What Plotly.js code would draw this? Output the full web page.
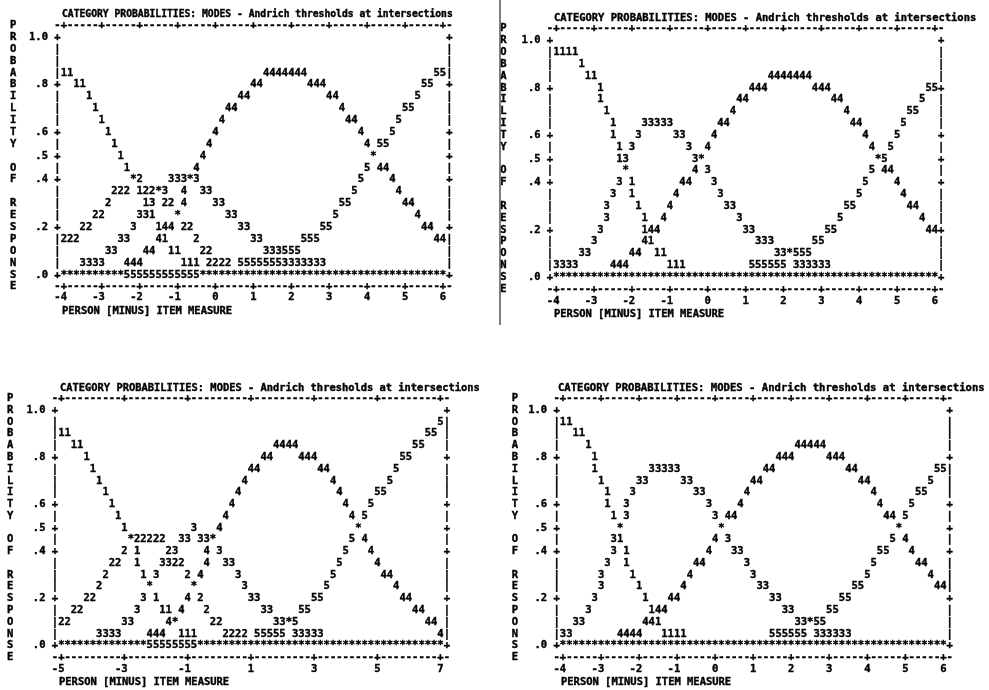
<!DOCTYPE html>
<html><head><meta charset="utf-8">
<script src="https://cdn.plot.ly/plotly-3.0.1.min.js"></script>
<style>
html,body{margin:0;padding:0;background:#fff}
#chart{width:989px;height:690px;will-change:transform;opacity:0.999}
#chart svg text{stroke:#000;stroke-width:0.4px;paint-order:stroke fill}
</style>
</head><body><div id="chart"></div>
<script>
// ---------- texts ----------
const TITLE = "CATEGORY PROBABILITIES: MODES - Andrich thresholds at intersections";
const X_TITLE = "PERSON [MINUS] ITEM MEASURE";
const Y_LETTERS = "PROBABILITY OF RESPONSE";

// ---------- probability axis (one text row = .05) ----------
const yTickVals = [1.0, 0.8, 0.6, 0.5, 0.4, 0.2, 0.0];
const yTickText = ["1.0", ".8", ".6", ".5", ".4", ".2", ".0"];
const probTop = 1.0, probStep = 0.05;

// ---------- measure axes ----------
const tlTicks = [-4, -3, -2, -1, 0, 1, 2, 3, 4, 5, 6];
const tlTickText = ["-4", "-3", "-2", "-1", "0", "1", "2", "3", "4", "5", "6"];
const trTicks = [-4, -3, -2, -1, 0, 1, 2, 3, 4, 5, 6];
const trTickText = ["-4", "-3", "-2", "-1", "0", "1", "2", "3", "4", "5", "6"];
const blTicks = [-5, -3, -1, 1, 3, 5, 7];
const blTickText = ["-5", "-3", "-1", "1", "3", "5", "7"];
const brTicks = [-4, -3, -2, -1, 0, 1, 2, 3, 4, 5, 6];
const brTickText = ["-4", "-3", "-2", "-1", "0", "1", "2", "3", "4", "5", "6"];

const S10 = "**********";

// ---------- plotted category characters: [row (0 = 1.0 ... 20 = .0), column from axis minimum, characters] ----------
const tlRuns = [
  [3,0,"11"],[3,32,"4444444"],[3,59,"55"],
  [4,2,"11"],[4,30,"44"],[4,39,"444"],[4,57,"55"],
  [5,4,"1"],[5,28,"44"],[5,42,"44"],[5,56,"5"],
  [6,5,"1"],[6,26,"44"],[6,44,"4"],[6,54,"55"],
  [7,6,"1"],[7,25,"4"],[7,45,"44"],[7,53,"5"],
  [8,7,"1"],[8,24,"4"],[8,47,"4"],[8,52,"5"],
  [9,8,"1"],[9,23,"4"],[9,48,"4 55"],
  [10,9,"1"],[10,22,"4"],[10,49,"*"],
  [11,10,"1"],[11,21,"4"],[11,48,"5 44"],
  [12,11,"*2"],[12,17,"333*3"],[12,47,"5"],[12,52,"4"],
  [13,8,"222 122*3"],[13,19,"4"],[13,22,"33"],[13,46,"5"],[13,53,"4"],
  [14,7,"2"],[14,13,"13 22 4"],[14,24,"33"],[14,44,"55"],[14,54,"44"],
  [15,5,"22"],[15,12,"331"],[15,18,"*"],[15,26,"33"],[15,43,"5"],[15,56,"4"],
  [16,3,"22"],[16,11,"3"],[16,15,"144 22"],[16,28,"33"],[16,41,"55"],[16,57,"44"],
  [17,0,"222"],[17,9,"33"],[17,15,"41"],[17,21,"2"],[17,30,"33"],[17,38,"555"],[17,59,"44"],
  [18,7,"33"],[18,13,"44"],[18,17,"11"],[18,22,"22"],[18,32,"333555"],
  [19,3,"3333"],[19,10,"444"],[19,19,"111"],[19,23,"2222"],[19,28,"55555553333333"],
  [20,0,S10],[20,10,"555555555555"],[20,22,S10+S10+S10+"*********"]
];
const trRuns = [
  [1,0,"1111"],
  [2,4,"1"],
  [3,5,"11"],[3,34,"4444444"],
  [4,7,"1"],[4,31,"444"],[4,41,"444"],[4,59,"55"],
  [5,7,"1"],[5,29,"44"],[5,44,"44"],[5,58,"5"],
  [6,8,"1"],[6,28,"4"],[6,46,"4"],[6,56,"55"],
  [7,9,"1"],[7,14,"33333"],[7,26,"44"],[7,47,"44"],[7,55,"5"],
  [8,9,"1"],[8,13,"3"],[8,19,"33"],[8,25,"4"],[8,49,"4"],[8,54,"5"],
  [9,10,"1 3"],[9,21,"3"],[9,24,"4"],[9,50,"4"],[9,53,"5"],
  [10,10,"13"],[10,22,"3*"],[10,51,"*5"],
  [11,11,"*"],[11,22,"4 3"],[11,50,"5 44"],
  [12,10,"3 1"],[12,20,"44"],[12,25,"3"],[12,49,"5"],[12,54,"4"],
  [13,9,"3"],[13,12,"1"],[13,19,"4"],[13,26,"3"],[13,48,"5"],[13,55,"4"],
  [14,8,"3"],[14,13,"1"],[14,18,"4"],[14,27,"33"],[14,46,"55"],[14,56,"44"],
  [15,8,"3"],[15,14,"1"],[15,17,"4"],[15,29,"3"],[15,45,"5"],[15,58,"4"],
  [16,7,"3"],[16,14,"144"],[16,30,"33"],[16,43,"55"],[16,59,"44"],
  [17,6,"3"],[17,14,"41"],[17,32,"333"],[17,41,"55"],
  [18,4,"33"],[18,12,"44"],[18,16,"11"],[18,35,"33*555"],
  [19,0,"3333"],[19,9,"444"],[19,18,"111"],[19,31,"555555"],[19,38,"333333"],
  [20,0,S10+S10+S10+S10+S10+S10+"*"]
];
const blRuns = [
  [1,60,"5"],
  [2,0,"11"],[2,58,"55"],
  [3,2,"11"],[3,34,"4444"],[3,56,"55"],
  [4,4,"1"],[4,32,"44"],[4,38,"444"],[4,54,"55"],
  [5,5,"1"],[5,30,"44"],[5,41,"44"],[5,53,"5"],
  [6,6,"1"],[6,29,"4"],[6,43,"4"],[6,52,"5"],
  [7,7,"1"],[7,28,"4"],[7,44,"4"],[7,50,"55"],
  [8,8,"1"],[8,27,"4"],[8,45,"4"],[8,49,"5"],
  [9,9,"1"],[9,26,"4"],[9,46,"4 5"],
  [10,10,"1"],[10,21,"3"],[10,25,"4"],[10,47,"*"],
  [11,11,"*22222"],[11,19,"33 33*"],[11,46,"5 4"],
  [12,10,"2 1"],[12,17,"23"],[12,23,"4 3"],[12,45,"5"],[12,49,"4"],
  [13,8,"22"],[13,12,"1"],[13,16,"3322"],[13,23,"4"],[13,26,"33"],[13,44,"5"],[13,50,"4"],
  [14,7,"2"],[14,13,"1 3"],[14,20,"2 4"],[14,28,"3"],[14,43,"5"],[14,51,"44"],
  [15,6,"2"],[15,14,"*"],[15,21,"*"],[15,29,"3"],[15,42,"5"],[15,53,"4"],
  [16,4,"22"],[16,13,"3 1"],[16,20,"4 2"],[16,30,"33"],[16,40,"55"],[16,54,"44"],
  [17,2,"22"],[17,12,"3"],[17,16,"11 4"],[17,23,"2"],[17,32,"33"],[17,38,"55"],[17,56,"44"],
  [18,0,"22"],[18,10,"33"],[18,17,"4*"],[18,24,"22"],[18,34,"33*5"],[18,58,"44"],
  [19,6,"3333"],[19,14,"444"],[19,19,"111"],[19,26,"2222"],[19,31,"55555"],[19,37,"33333"],[19,60,"4"],
  [20,0,S10+"****"],[20,14,"55555555"],[20,22,S10+S10+S10+"*********"]
];
const brRuns = [
  [1,0,"11"],
  [2,2,"11"],
  [3,4,"1"],[3,37,"44444"],
  [4,5,"1"],[4,34,"444"],[4,42,"444"],
  [5,5,"1"],[5,14,"33333"],[5,32,"44"],[5,45,"44"],[5,59,"55"],
  [6,6,"1"],[6,12,"33"],[6,19,"33"],[6,30,"44"],[6,47,"44"],[6,58,"5"],
  [7,7,"1"],[7,11,"3"],[7,21,"33"],[7,29,"4"],[7,49,"4"],[7,56,"55"],
  [8,7,"1"],[8,10,"3"],[8,23,"3"],[8,28,"4"],[8,50,"4"],[8,55,"5"],
  [9,8,"1 3"],[9,24,"3 44"],[9,51,"44 5"],
  [10,9,"*"],[10,25,"*"],[10,53,"*"],
  [11,8,"31"],[11,24,"4 3"],[11,52,"5 4"],
  [12,8,"3 1"],[12,23,"4"],[12,27,"33"],[12,50,"55"],[12,55,"4"],
  [13,7,"3"],[13,10,"1"],[13,21,"44"],[13,29,"3"],[13,49,"5"],[13,56,"44"],
  [14,6,"3"],[14,11,"1"],[14,20,"4"],[14,30,"3"],[14,48,"5"],[14,58,"4"],
  [15,6,"3"],[15,12,"1"],[15,19,"4"],[15,31,"33"],[15,46,"55"],[15,59,"44"],
  [16,5,"3"],[16,13,"1"],[16,17,"44"],[16,33,"33"],[16,44,"55"],
  [17,4,"3"],[17,14,"144"],[17,35,"33"],[17,42,"55"],
  [18,2,"33"],[18,13,"441"],[18,37,"33*55"],
  [19,0,"33"],[19,9,"4444"],[19,16,"1111"],[19,33,"555555"],[19,40,"333333"],
  [20,0,S10+S10+S10+S10+S10+S10+"*"]
];

// ---------- layout of the four panels (pixel calibration) ----------
const FONT = "DejaVu Sans Mono";
const W = 989, H = 690;
const GRID_SIZE = 10.5;
const panels = [
  {ax:"", ticks:tlTicks, tickText:tlTickText, runs:tlRuns, xmin:-4, cpu:6,
   box:[0,495,0,330], a:63.8, b:6.32, c:37.3, d:11.88,
   letterK:-8.0, labelRow:21.85, xTitleRow:22.95, titleK:-0.5, titleSize:9.7},
  {ax:"2", ticks:trTicks, tickText:trTickText, runs:trRuns, xmin:-4, cpu:6,
   box:[500,989,0,330], a:556.3, b:6.31, c:40.7, d:11.83,
   letterK:-8.4, labelRow:22.0, xTitleRow:23.0, titleK:-0.5, titleSize:10.47},
  {ax:"3", ticks:blTicks, tickText:blTickText, runs:blRuns, xmin:-5, cpu:5,
   box:[0,494,340,690], a:61.3, b:6.32, c:410.3, d:11.77,
   letterK:-8.1, labelRow:22.0, xTitleRow:23.0, titleK:-0.3, titleSize:10.41},
  {ax:"4", ticks:brTicks, tickText:brTickText, runs:brRuns, xmin:-4, cpu:6,
   box:[494,989,340,690], a:563.0, b:6.34, c:410.3, d:11.77,
   letterK:-7.6, labelRow:22.0, xTitleRow:23.0, titleK:-1.0, titleSize:10.58}
];

const data = [];
const layout = {
  width: W, height: H, margin:{l:0,r:0,t:0,b:0},
  paper_bgcolor:"#ffffff", plot_bgcolor:"rgba(0,0,0,0)",
  showlegend:false, annotations:[], shapes:[]
};

panels.forEach(p => {
  const X = k => p.xmin + k / p.cpu;                 // column -> measure
  const Y = row => probTop - row * probStep;           // text row -> probability
  const xs = [], ys = [], ts = [];
  const put = (k, row, ch) => {
    if (ch === " ") return;
    xs.push(X(k)); ys.push(Y(row)); ts.push(ch);
  };

  const tickK = p.ticks.map(t => Math.round((t - p.ticks[0]) * p.cpu));
  const kMax = tickK[tickK.length - 1];
  const labeledRows = yTickVals.map(v => Math.round((probTop - v) / probStep));
  const lastRow = Math.round(probTop / probStep);

  // top & bottom dashed scale lines
  for (let k = -1; k <= kMax + 1; k++) {
    const ch = tickK.includes(k) ? "+" : "-";
    put(k, -1, ch); put(k, lastRow + 1, ch);
  }
  // left & right vertical axes
  for (let row = 0; row <= lastRow; row++) {
    const ch = labeledRows.includes(row) ? "+" : "|";
    put(-1, row, ch); put(kMax + 1, row, ch);
  }
  // probability tick labels
  yTickText.forEach((s, i) => {
    for (let j = 0; j < s.length; j++) put(-2 - (s.length - j), labeledRows[i], s[j]);
  });
  // measure tick labels (last character under the tick)
  p.tickText.forEach((s, i) => {
    for (let j = 0; j < s.length; j++) put(tickK[i] - (s.length - 1 - j), p.labelRow, s[j]);
  });
  // vertical axis title letters
  for (let i = 0; i < Y_LETTERS.length; i++) put(p.letterK, i - 1, Y_LETTERS[i]);
  // category curves
  p.runs.forEach(([row, k0, s]) => { for (let j = 0; j < s.length; j++) put(k0 + j, row, s[j]); });

  data.push({
    type:"scatter", mode:"text", x:xs, y:ys, text:ts,
    textposition:"middle center",
    textfont:{family:FONT, size:GRID_SIZE, color:"#000000", weight:"bold"},
    cliponaxis:false, hoverinfo:"skip", showlegend:false,
    xaxis:"x"+p.ax, yaxis:"y"+p.ax
  });

  // axes: invisible, mapping columns/rows to pixels
  const [X0, X1, Y0, Y1] = p.box;
  const pxToMeasure = px => p.xmin + ((px - p.a) / p.b) / p.cpu;
  const pyToProb = py => probTop - probStep * (py - p.c) / p.d;
  layout["xaxis"+p.ax] = {domain:[X0/W, X1/W], range:[pxToMeasure(X0), pxToMeasure(X1)],
    visible:false, fixedrange:true, anchor:"y"+p.ax};
  layout["yaxis"+p.ax] = {domain:[1 - Y1/H, 1 - Y0/H], range:[pyToProb(Y1), pyToProb(Y0)],
    visible:false, fixedrange:true, anchor:"x"+p.ax};

  layout.annotations.push({
    xref:"x"+p.ax, yref:"y"+p.ax, x:X(p.titleK), y:Y(-2), text:TITLE,
    xanchor:"left", yanchor:"middle", showarrow:false, borderpad:0,
    font:{family:FONT, size:p.titleSize, color:"#000000", weight:"bold"}
  });
  layout.annotations.push({
    xref:"x"+p.ax, yref:"y"+p.ax, x:X(-0.5), y:Y(p.xTitleRow), text:X_TITLE,
    xanchor:"left", yanchor:"middle", showarrow:false, borderpad:0,
    font:{family:FONT, size:10.47, color:"#000000", weight:"bold"}
  });
});

// separator between the two upper outputs
layout.shapes.push({type:"line", xref:"paper", yref:"paper",
  x0:500/W, x1:500/W, y0:1, y1:1 - 325/H, line:{color:"#555555", width:1.5}});

Plotly.newPlot("chart", data, layout, {displayModeBar:false, staticPlot:true});
</script>
</body></html>
